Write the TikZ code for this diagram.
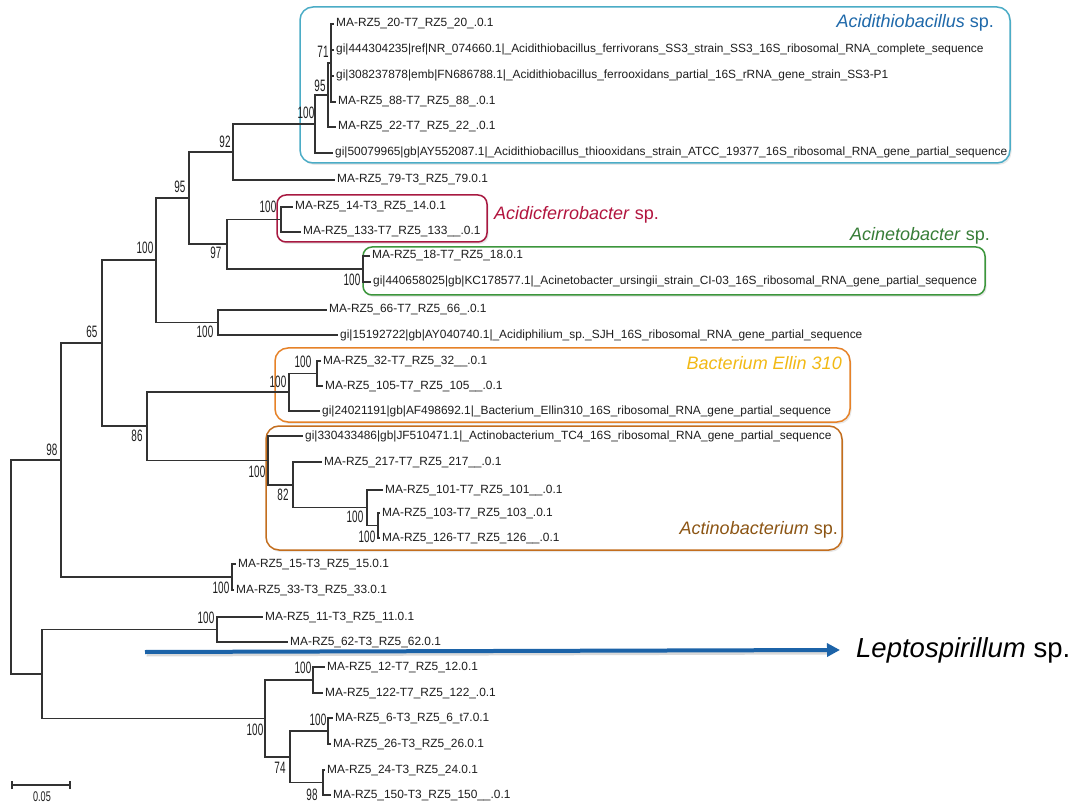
\documentclass[tikz,border=0pt]{standalone}
\usepackage{fontspec}
\setmainfont{Liberation Sans}
\newfontfamily\bsfont[FakeStretch=0.6]{Liberation Sans}
\newfontfamily\sbfont[FakeStretch=0.65]{Liberation Sans}
\usetikzlibrary{arrows.meta,shadows}
\definecolor{treegray}{RGB}{50,50,50}
\definecolor{leafgray}{RGB}{30,30,30}
\definecolor{cyanbox}{RGB}{75,172,198}
\definecolor{cyanlab}{RGB}{31,105,170}
\definecolor{redbox}{RGB}{168,25,65}
\definecolor{redlab}{RGB}{178,20,62}
\definecolor{greenbox}{RGB}{60,150,60}
\definecolor{greenlab}{RGB}{55,125,55}
\definecolor{ellinbox}{RGB}{230,130,40}
\definecolor{ellinlab}{RGB}{242,185,20}
\definecolor{actbox}{RGB}{195,110,30}
\definecolor{actlab}{RGB}{140,85,20}
\definecolor{arrowblue}{RGB}{28,99,168}
\newcommand\leaffont{\fontsize{11.9}{13}\selectfont}
\newcommand\cladefont{\fontsize{18}{20}\selectfont}
\begin{document}
\begin{tikzpicture}[x=1pt,y=-1pt,
  branch/.style={draw=treegray, line width=1.6pt},
  leaf/.style={anchor=west, inner xsep=2pt, inner ysep=0pt, text height=8.5pt, text depth=2.5pt, font=\leaffont, text=leafgray},
  bs/.style={inner sep=0pt, font={\bsfont\fontsize{16.5}{17}\selectfont}, text=leafgray},
  clade/.style={rounded corners=13pt, line width=1.5pt, fill=white, drop shadow={opacity=0.18, shadow xshift=1.5pt, shadow yshift=-2pt}},
  cladelab/.style={inner sep=0pt, font=\cladefont},
  arrowline/.style={line width=4pt, draw=arrowblue, -{Triangle[length=13pt,width=13pt]}}
]
\useasboundingbox[fill=white] (0,0) rectangle (1080,805);

% clade boxes
\draw[clade, draw=cyanbox] (300,7) rectangle (1010,163);
\draw[clade, draw=redbox, rounded corners=9pt] (277,195) rectangle (487,242);
\draw[clade, draw=greenbox, rounded corners=9pt] (363,247) rectangle (985,295);
\draw[clade, draw=ellinbox] (275,348) rectangle (850,422);
\draw[clade, draw=actbox] (266,426) rectangle (842,550);

% clade labels
\node[cladelab, anchor=east, text=cyanlab] (labA) at (994,23) {\textit{Acidithiobacillus} sp.};
\node[cladelab, anchor=west, text=redlab] (labB) at (494,215) {\textit{Acidicferrobacter} sp.};
\node[cladelab, anchor=east, text=greenlab] (labC) at (990,236) {\textit{Acinetobacter} sp.};
\node[cladelab, anchor=east, text=ellinlab] (labD) at (842,363) {\textit{Bacterium Ellin 310}};
\node[cladelab, anchor=east, text=actlab] (labE) at (838,530) {\textit{Actinobacterium} sp.};

% leaves
\node[leaf] (l1) at (334,24) {MA-RZ5\_20-T7\_RZ5\_20\_.0.1};
\node[leaf] (l2) at (334,50) {gi|444304235|ref|NR\_074660.1|\_Acidithiobacillus\_ferrivorans\_SS3\_strain\_SS3\_16S\_ribosomal\_RNA\_complete\_sequence};
\node[leaf] (l3) at (334,76) {gi|308237878|emb|FN686788.1|\_Acidithiobacillus\_ferrooxidans\_partial\_16S\_rRNA\_gene\_strain\_SS3-P1};
\node[leaf] (l4) at (336,102) {MA-RZ5\_88-T7\_RZ5\_88\_.0.1};
\node[leaf] (l5) at (336,127) {MA-RZ5\_22-T7\_RZ5\_22\_.0.1};
\node[leaf] (l6) at (333,153) {gi|50079965|gb|AY552087.1|\_Acidithiobacillus\_thiooxidans\_strain\_ATCC\_19377\_16S\_ribosomal\_RNA\_gene\_partial\_sequence};
\node[leaf] (l7) at (335,180) {MA-RZ5\_79-T3\_RZ5\_79.0.1};
\node[leaf] (l8) at (293,207) {MA-RZ5\_14-T3\_RZ5\_14.0.1};
\node[leaf] (l9) at (301,232) {MA-RZ5\_133-T7\_RZ5\_133\_\_.0.1};
\node[leaf] (l10) at (370,256) {MA-RZ5\_18-T7\_RZ5\_18.0.1};
\node[leaf] (l11) at (371,282) {gi|440658025|gb|KC178577.1|\_Acinetobacter\_ursingii\_strain\_CI-03\_16S\_ribosomal\_RNA\_gene\_partial\_sequence};
\node[leaf] (l12) at (327,310) {MA-RZ5\_66-T7\_RZ5\_66\_.0.1};
\node[leaf] (l13) at (338,335) {gi|15192722|gb|AY040740.1|\_Acidiphilium\_sp.\_SJH\_16S\_ribosomal\_RNA\_gene\_partial\_sequence};
\node[leaf] (l14) at (321,361) {MA-RZ5\_32-T7\_RZ5\_32\_\_.0.1};
\node[leaf] (l15) at (323,386) {MA-RZ5\_105-T7\_RZ5\_105\_\_.0.1};
\node[leaf] (l16) at (320,411) {gi|24021191|gb|AF498692.1|\_Bacterium\_Ellin310\_16S\_ribosomal\_RNA\_gene\_partial\_sequence};
\node[leaf] (l17) at (303,436) {gi|330433486|gb|JF510471.1|\_Actinobacterium\_TC4\_16S\_ribosomal\_RNA\_gene\_partial\_sequence};
\node[leaf] (l18) at (322,462) {MA-RZ5\_217-T7\_RZ5\_217\_\_.0.1};
\node[leaf] (l19) at (383,490) {MA-RZ5\_101-T7\_RZ5\_101\_\_.0.1};
\node[leaf] (l20) at (380,513) {MA-RZ5\_103-T7\_RZ5\_103\_.0.1};
\node[leaf] (l21) at (380,538) {MA-RZ5\_126-T7\_RZ5\_126\_\_.0.1};
\node[leaf] (l22) at (236,564) {MA-RZ5\_15-T3\_RZ5\_15.0.1};
\node[leaf] (l23) at (234,590) {MA-RZ5\_33-T3\_RZ5\_33.0.1};
\node[leaf] (l24) at (263,617) {MA-RZ5\_11-T3\_RZ5\_11.0.1};
\node[leaf] (l25) at (288,642) {MA-RZ5\_62-T3\_RZ5\_62.0.1};
\node[leaf] (l26) at (325,667) {MA-RZ5\_12-T7\_RZ5\_12.0.1};
\node[leaf] (l27) at (323,693) {MA-RZ5\_122-T7\_RZ5\_122\_.0.1};
\node[leaf] (l28) at (333,718) {MA-RZ5\_6-T3\_RZ5\_6\_t7.0.1};
\node[leaf] (l29) at (331,744) {MA-RZ5\_26-T3\_RZ5\_26.0.1};
\node[leaf] (l30) at (325,770) {MA-RZ5\_24-T3\_RZ5\_24.0.1};
\node[leaf] (l31) at (331,795) {MA-RZ5\_150-T3\_RZ5\_150\_\_.0.1};

% internal nodes
\coordinate (a71) at (331,63);
\coordinate (a95) at (328,95);
\coordinate (a100) at (315,124);
\coordinate (a92) at (233,152);
\coordinate (f100) at (281,219.5);
\coordinate (g100) at (363,269);
\coordinate (c97) at (227,244);
\coordinate (c95) at (189,198);
\coordinate (h100) at (218,322.5);
\coordinate (c100) at (156,260);
\coordinate (e100i) at (317,373.5);
\coordinate (e100) at (289,392);
\coordinate (k100b) at (378,525.5);
\coordinate (k100a) at (367,507.5);
\coordinate (k82) at (293,484.75);
\coordinate (k100) at (268,460.5);
\coordinate (d86) at (147,426);
\coordinate (d65) at (102,343);
\coordinate (m100) at (232,577);
\coordinate (d98) at (61,460);
\coordinate (n100) at (217,629.5);
\coordinate (p100a) at (313,680);
\coordinate (q100) at (328,731);
\coordinate (q98) at (323,782.5);
\coordinate (q74) at (290,756.75);
\coordinate (p100) at (265,718.4);
\coordinate (r) at (42,674);
\coordinate (root) at (11,567);

% branches
\draw[branch] (a71) |- (l1.west) (a71) |- (l2.west) (a71) |- (l3.west) (a71) |- (l4.west);
\draw[branch] (a95) |- (a71) (a95) |- (l5.west);
\draw[branch] (a100) |- (a95) (a100) |- (l6.west);
\draw[branch] (a92) |- (a100) (a92) |- (l7.west);
\draw[branch] (f100) |- (l8.west) (f100) |- (l9.west);
\draw[branch] (g100) |- (l10.west) (g100) |- (l11.west);
\draw[branch] (c97) |- (f100) (c97) |- (g100);
\draw[branch] (c95) |- (a92) (c95) |- (c97);
\draw[branch] (h100) |- (l12.west) (h100) |- (l13.west);
\draw[branch] (c100) |- (c95) (c100) |- (h100);
\draw[branch] (e100i) |- (l14.west) (e100i) |- (l15.west);
\draw[branch] (e100) |- (e100i) (e100) |- (l16.west);
\draw[branch] (k100b) |- (l20.west) (k100b) |- (l21.west);
\draw[branch] (k100a) |- (l19.west) (k100a) |- (k100b);
\draw[branch] (k82) |- (l18.west) (k82) |- (k100a);
\draw[branch] (k100) |- (l17.west) (k100) |- (k82);
\draw[branch] (d86) |- (e100) (d86) |- (k100);
\draw[branch] (d65) |- (c100) (d65) |- (d86);
\draw[branch] (m100) |- (l22.west) (m100) |- (l23.west);
\draw[branch] (d98) |- (d65) (d98) |- (m100);
\draw[branch] (n100) |- (l24.west) (n100) |- (l25.west);
\draw[branch] (p100a) |- (l26.west) (p100a) |- (l27.west);
\draw[branch] (q100) |- (l28.west) (q100) |- (l29.west);
\draw[branch] (q98) |- (l30.west) (q98) |- (l31.west);
\draw[branch] (q74) |- (q100) (q74) |- (q98);
\draw[branch] (p100) |- (p100a) (p100) |- (q74);
\draw[branch] (r) |- (n100) (r) |- (p100);
\draw[branch] (root) |- (d98) (root) |- (r);

% bootstrap values
\node[bs] (b1) at (323,52) {71};
\node[bs] (b2) at (320,86) {95};
\node[bs] (b3) at (306,113) {100};
\node[bs] (b4) at (225,142) {92};
\node[bs] (b5) at (180,187) {95};
\node[bs] (b6) at (268,207) {100};
\node[bs] (b7) at (216,253) {97};
\node[bs] (b8) at (352,280) {100};
\node[bs] (b9) at (145,248) {100};
\node[bs] (b10) at (205,332) {100};
\node[bs] (b11) at (92,332) {65};
\node[bs] (b12) at (303,362) {100};
\node[bs] (b13) at (278,382) {100};
\node[bs] (b14) at (137,436) {86};
\node[bs] (b15) at (257,472) {100};
\node[bs] (b16) at (283,495) {82};
\node[bs] (b17) at (355,517) {100};
\node[bs] (b18) at (367,537) {100};
\node[bs] (b19) at (52,450) {98};
\node[bs] (b20) at (221,588) {100};
\node[bs] (b21) at (206,618) {100};
\node[bs] (b22) at (303,668) {100};
\node[bs] (b23) at (255,730) {100};
\node[bs] (b24) at (318,720) {100};
\node[bs] (b25) at (280,768) {74};
\node[bs] (b26) at (312,795) {98};

% scale bar
\coordinate (sbL) at (12,785);
\coordinate (sbR) at (70,785);
\draw[branch, line width=1.2pt] (sbL) -- (sbR);
\draw[branch, line width=1.2pt] ([yshift=-4]sbL) -- ([yshift=4]sbL);
\draw[branch, line width=1.2pt] ([yshift=-4]sbR) -- ([yshift=4]sbR);
\node[inner sep=0pt, font={\sbfont\fontsize{14}{15}\selectfont}, text=leafgray] (sblab) at (42,797) {0.05};

% Leptospirillum arrow
\node[anchor=west, inner sep=0pt, font={\fontsize{27.5}{30}\selectfont}, text=black] (lepto) at (856,650) {\textit{Leptospirillum} sp.};
\coordinate (arrS) at (145,652);
\draw[line width=4pt, draw=black, opacity=0.15] ([xshift=1.5pt,yshift=-2.5pt]arrS) -- ([xshift=-27pt,yshift=-2.5pt]lepto.west);
\draw[arrowline] (arrS) -- ([xshift=-16pt]lepto.west);
\end{tikzpicture}
\end{document}
